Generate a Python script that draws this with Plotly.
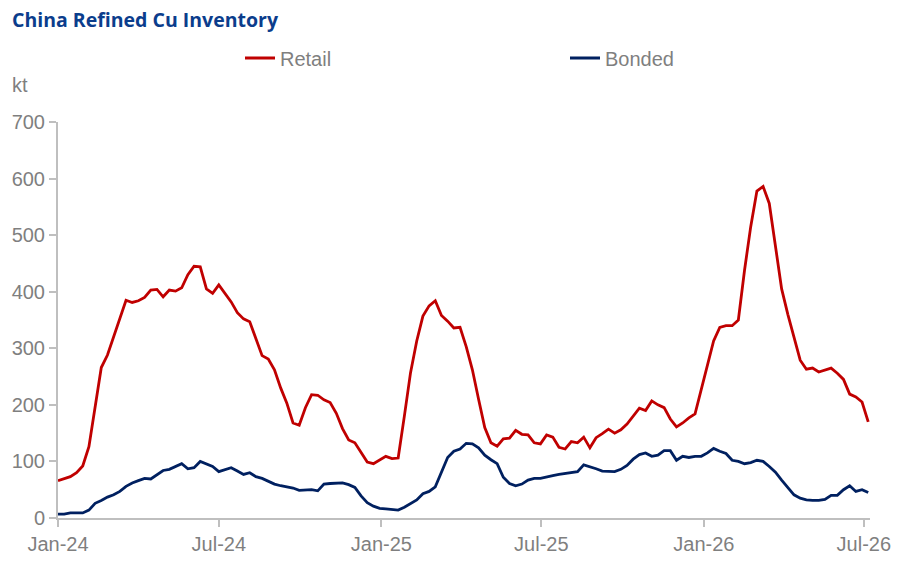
import pandas as pd
import plotly.graph_objects as go

# Weekly observations starting the first week of Jan-2024
start_date = "2024-01-01"

retail = [66, 70, 73, 80, 92, 126, 195, 266, 288, 320, 354, 385, 381, 384, 390, 403, 404, 391, 403, 401,
          407, 430, 445, 444, 405, 397, 412, 398, 382, 363, 352, 347, 315, 287, 281, 262, 230, 203, 168, 164,
          195, 218, 217, 209, 204, 185, 158, 138, 133, 115, 99, 96, 103, 109, 105, 106, 180, 257, 313, 357,
          375, 384, 358, 348, 336, 337, 303, 262, 210, 160, 133, 127, 140, 141, 155, 148, 147, 133, 131, 147,
          143, 125, 122, 135, 133, 143, 124, 142, 149, 157, 150, 156, 166, 181, 194, 190, 207, 200, 195, 175,
          161, 168, 177, 184, 228, 268, 313, 337, 340, 340, 350, 438, 515, 578, 586, 556, 483, 405, 360, 318,
          279, 263, 265, 258, 262, 265, 256, 245, 219, 214, 205, 170]

bonded = [7, 7, 9, 9, 9, 14, 26, 31, 37, 41, 47, 56, 62, 66, 70, 69, 76, 84, 86, 91,
          96, 87, 89, 100, 95, 91, 82, 85, 89, 83, 77, 80, 73, 70, 65, 60, 57, 55, 53, 49,
          49, 50, 48, 60, 61, 62, 62, 59, 54, 39, 27, 21, 17, 16, 15, 14, 19, 25, 32, 43,
          47, 55, 80, 107, 118, 122, 132, 131, 124, 111, 103, 96, 72, 61, 57, 60, 67, 70, 70, 73,
          75, 77, 79, 81, 82, 94, 91, 87, 83, 82, 82, 86, 93, 104, 112, 115, 109, 111, 119, 119,
          102, 109, 107, 109, 109, 115, 123, 118, 114, 102, 100, 96, 98, 102, 100, 91, 81, 67, 53, 41,
          35, 32, 31, 31, 33, 40, 40, 50, 57, 47, 50, 45]

tick_dates = ["2024-01-01", "2024-07-01", "2025-01-01", "2025-07-01", "2026-01-01", "2026-07-01"]
tick_labels = ["Jan-24", "Jul-24", "Jan-25", "Jul-25", "Jan-26", "Jul-26"]
y_ticks = [0, 100, 200, 300, 400, 500, 600, 700]

dates = pd.date_range(start_date, periods=len(retail), freq="7D")

RED = "#C00000"
NAVY = "#002060"
GREY_TXT = "#7F7F7F"
AXIS = "#BFBFBF"
FONT = "Arial, 'Liberation Sans', sans-serif"

fig = go.Figure()
fig.add_trace(go.Scatter(x=dates, y=retail, mode="lines", name="Retail", showlegend=True,
                         line=dict(color=RED, width=2.8), legend="legend"))
fig.add_trace(go.Scatter(x=dates, y=bonded, mode="lines", name="Bonded", showlegend=True,
                         line=dict(color=NAVY, width=2.8), legend="legend2"))

legend_common = dict(orientation="h", xref="container", yref="container",
                     xanchor="left", yanchor="middle", bgcolor="rgba(0,0,0,0)",
                     font=dict(family=FONT, size=20, color=GREY_TXT))

fig.update_layout(
    width=908, height=567,
    showlegend=True,
    margin=dict(l=55, r=38, t=122, b=46),
    paper_bgcolor="white", plot_bgcolor="white",
    font=dict(family=FONT, size=20, color=GREY_TXT),
    title=dict(text="<b>China Refined Cu Inventory</b>", x=12 / 908, xanchor="left",
               y=1 - 20 / 567, yanchor="middle",
               font=dict(family="'Open Sans', sans-serif", size=19.5, color="#0B3D8C")),
    legend=dict(x=240 / 908, y=1 - 58 / 567, **legend_common),
    legend2=dict(x=565 / 908, y=1 - 58 / 567, **legend_common),
    xaxis=dict(type="date", range=["2024-01-01", "2026-07-08"],
               tickvals=tick_dates, ticktext=tick_labels,
               showgrid=False, zeroline=False, showline=True, linecolor=AXIS, linewidth=2,
               ticks="outside", ticklen=7, tickwidth=2, tickcolor=AXIS,
               tickfont=dict(family=FONT, size=20, color=GREY_TXT)),
    yaxis=dict(range=[0, 700], tickvals=y_ticks,
               showgrid=False, zeroline=False, showline=True, linecolor=AXIS, linewidth=2,
               ticks="outside", ticklen=7, tickwidth=2, tickcolor=AXIS,
               tickfont=dict(family=FONT, size=20, color=GREY_TXT)),
    annotations=[dict(text="kt", xref="paper", yref="paper", x=-48 / 815, y=1 + 37 / 399,
                      xanchor="left", yanchor="middle", showarrow=False,
                      font=dict(family=FONT, size=20, color=GREY_TXT))],
)

fig.write_html("out.html")
